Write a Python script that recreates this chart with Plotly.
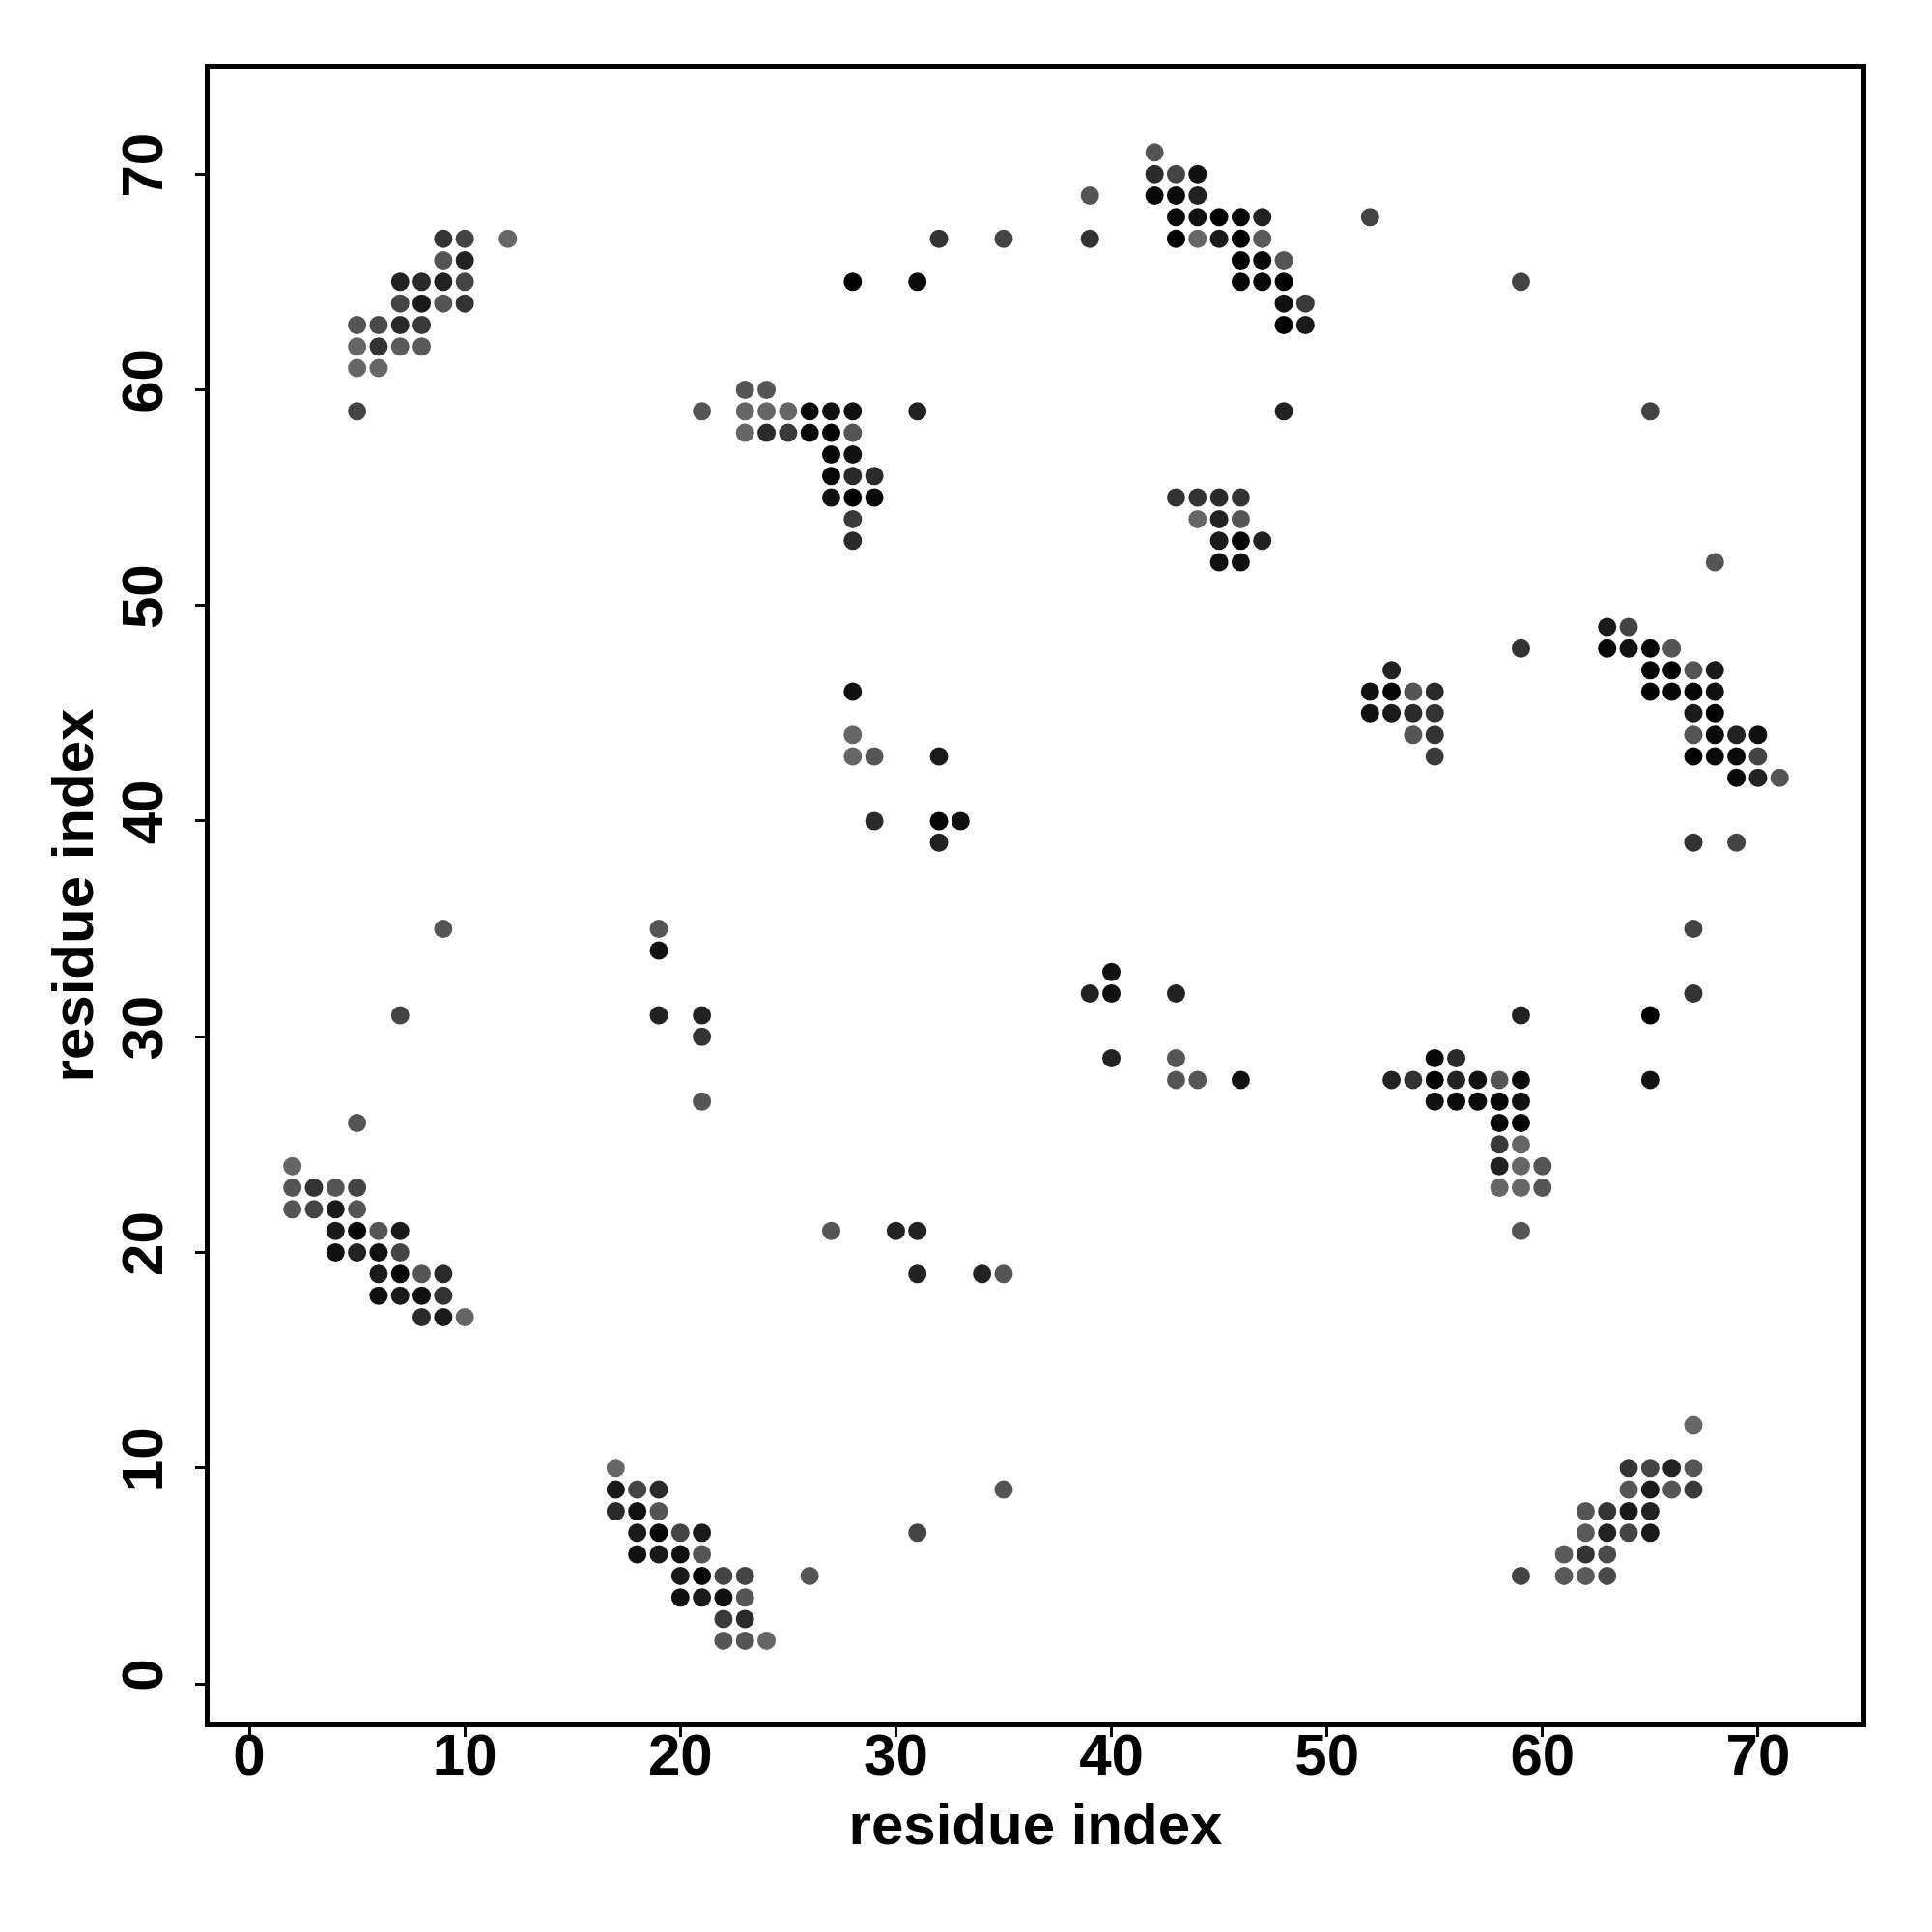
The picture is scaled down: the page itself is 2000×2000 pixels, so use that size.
import plotly.graph_objects as go

# Contact map: residue i, residue j, predicted contact probability (shade)
res_i = [
    # cluster top-left
    9, 10, 12, 9, 10, 7, 8, 9, 10, 7, 8, 9, 10, 5, 6, 7, 8, 5, 6, 7, 8, 5, 6, 5,
    # cluster 21-29 / 53-60
    23, 24, 21, 23, 24, 25, 26, 27, 28, 23, 24, 25, 26, 27, 28, 27, 28, 27, 28, 29, 27, 28, 29, 28, 28,
    # cluster 42-49 / 63-71
    42, 42, 43, 44, 42, 43, 44, 43, 44, 45, 46, 47, 43, 44, 45, 46, 47, 46, 47, 48, 46, 47, 48, 48, 49, 48, 49,
    # cluster 43-47 / 52-55
    43, 44, 45, 46, 44, 45, 46, 45, 46, 47, 45, 46,
    # cluster 52-55 / 43-47
    53, 52, 53, 54, 55, 52, 53, 54, 55, 54, 55, 55,
    # cluster 63-71 / 42-49
    63, 64, 63, 64, 65, 66, 65, 66, 67, 68, 65, 66, 67, 68, 67, 68, 67, 68, 69, 70, 67, 68, 69, 70, 69, 70, 71,
    # cluster 2-10 / 17-24
    2, 2, 3, 4, 5, 2, 3, 4, 5, 4, 5, 6, 7, 4, 5, 6, 7, 6, 7, 8, 9, 6, 7, 8, 9, 8, 9, 10,
    # cluster 17-24 / 2-10
    17, 17, 18, 19, 17, 18, 19, 18, 19, 20, 21, 18, 19, 20, 21, 20, 21, 22, 23, 20, 21, 22, 23, 22, 23, 22, 23, 24,
    # cluster 53-60 / 21-29
    55, 56, 53, 54, 55, 56, 57, 58, 59, 55, 56, 57, 58, 59, 58, 59, 58, 59, 58, 59, 60, 58, 59, 60, 59,
    # cluster 59-67 / 5-12
    67, 64, 65, 66, 67, 64, 65, 66, 67, 62, 63, 64, 65, 62, 63, 64, 65, 61, 62, 63, 59, 61, 62, 63,
    # scattered contacts
    39, 39, 32, 35, 28, 31, 52, 59, 31, 48, 65, 68, 59,
    28, 28, 28, 29, 32, 29, 32, 33, 32, 67, 69,
    9, 7, 19, 19, 19, 21, 21, 21, 5,
    39, 40, 40, 40, 43, 43, 43, 44, 46,
    67, 67, 65, 65, 59,
    27, 30, 31, 31, 34, 35, 35, 31, 26,
]

res_j = [
    67, 67, 67, 66, 66, 65, 65, 65, 65, 64, 64, 64, 64, 63, 63, 63, 63, 62, 62, 62, 62, 61, 61, 59,
    60, 60, 59, 59, 59, 59, 59, 59, 59, 58, 58, 58, 58, 58, 58, 57, 57, 56, 56, 56, 55, 55, 55, 54, 53,
    71, 70, 70, 70, 69, 69, 69, 68, 68, 68, 68, 68, 67, 67, 67, 67, 67, 66, 66, 66, 65, 65, 65, 64, 64, 63, 63,
    55, 55, 55, 55, 54, 54, 54, 53, 53, 53, 52, 52,
    47, 46, 46, 46, 46, 45, 45, 45, 45, 44, 44, 43,
    49, 49, 48, 48, 48, 48, 47, 47, 47, 47, 46, 46, 46, 46, 45, 45, 44, 44, 44, 44, 43, 43, 43, 43, 42, 42, 42,
    24, 23, 23, 23, 23, 22, 22, 22, 22, 21, 21, 21, 21, 20, 20, 20, 20, 19, 19, 19, 19, 18, 18, 18, 18, 17, 17, 17,
    10, 9, 9, 9, 8, 8, 8, 7, 7, 7, 7, 6, 6, 6, 6, 5, 5, 5, 5, 4, 4, 4, 4, 3, 3, 2, 2, 2,
    29, 29, 28, 28, 28, 28, 28, 28, 28, 27, 27, 27, 27, 27, 26, 26, 25, 25, 24, 24, 24, 23, 23, 23, 21,
    12, 10, 10, 10, 10, 9, 9, 9, 9, 8, 8, 8, 8, 7, 7, 7, 7, 6, 6, 6, 5, 5, 5, 5,
    69, 67, 67, 67, 65, 65, 68, 65, 59, 59, 59, 52, 48,
    46, 44, 43, 43, 43, 40, 40, 40, 39, 39, 39,
    35, 31, 35, 34, 31, 31, 30, 27, 26,
    32, 32, 33, 29, 32, 29, 28, 28, 28,
    35, 32, 31, 28, 31,
    21, 21, 21, 19, 19, 19, 9, 7, 5,
]

prob = [
    .54, .38, .07, .23, .69, .69, .62, .69, .38, .38, .76, .23, .54, .23, .33, .62, .47, .07, .54, .18, .18, .07, .07, .38,
    .23, .23, .23, .07, .07, .07, .93, .85, .85, .07, .62, .47, .93, .95, .23, .93, .85, .93, .62, .62, .85, .99, .93, .47, .62,
    .23, .62, .38, .85, .93, .91, .69, .91, .85, .99, .93, .69, .99, .07, .76, .99, .18, .99, .93, .23, .95, .93, .99, .85, .47, .99, .76,
    .54, .54, .62, .54, .07, .69, .23, .76, .95, .69, .85, .85,
    .69, .85, .95, .23, .62, .85, .76, .62, .54, .23, .54, .47,
    .76, .38, .95, .85, .93, .23, .95, .99, .23, .76, .99, .95, .95, .85, .76, .99, .23, .93, .69, .85, .99, .91, .91, .38, .93, .69, .23,
    .07, .23, .54, .23, .38, .23, .38, .76, .23, .76, .95, .23, .76, .85, .69, .85, .38, .76, .93, .23, .62, .85, .76, .85, .54, .62, .76, .07,
    .07, .76, .38, .62, .62, .85, .23, .76, .93, .38, .76, .85, .76, .85, .23, .76, .95, .38, .38, .85, .76, .85, .23, .47, .62, .23, .23, .07,
    .93, .62, .69, .54, .99, .69, .85, .23, .91, .85, .91, .91, .95, .85, .95, .99, .47, .07, .69, .07, .23, .07, .07, .23, .23,
    .07, .54, .38, .69, .23, .23, .76, .23, .47, .23, .54, .76, .69, .18, .69, .38, .76, .18, .54, .33, .38, .18, .18, .33,
    .23, .54, .54, .38, .99, .91, .38, .38, .69, .69, .38, .23, .54,
    .85, .07, .07, .23, .76, .62, .95, .85, .69, .54, .38,
    .23, .38, .23, .85, .69, .69, .54, .23, .23,
    .69, .85, .85, .69, .69, .23, .23, .23, .85,
    .38, .54, .99, .85, .69,
    .23, .69, .69, .69, .69, .23, .23, .38, .23,
]

tick_vals = [0, 10, 20, 30, 40, 50, 60, 70]
axis_title = "residue index"

font_family = "Liberation Sans, Arial, sans-serif"

fig = go.Figure(
    go.Scatter(
        x=res_i,
        y=res_j,
        mode="markers",
        marker=dict(
            size=19,
            color=prob,
            cmin=0,
            cmax=1,
            colorscale=[[0, "rgb(110,110,110)"], [1, "rgb(0,0,0)"]],
            showscale=False,
            line=dict(width=0),
        ),
        showlegend=False,
    )
)

axis_common = dict(
    showgrid=False,
    zeroline=False,
    showline=True,
    linecolor="black",
    linewidth=5,
    mirror=True,
    ticks="outside",
    ticklen=10,
    tickwidth=3,
    tickcolor="black",
    tickvals=tick_vals,
    tickfont=dict(family=font_family, size=60, color="black", weight="bold"),
    title=dict(text=axis_title, font=dict(family=font_family, size=60, color="black", weight="bold")),
)

fig.update_layout(
    width=2000,
    height=2000,
    margin=dict(l=209, r=81, t=63, b=225),
    paper_bgcolor="white",
    plot_bgcolor="white",
    xaxis=dict(range=[-1.84, 74.8], ticklabelstandoff=-33, **axis_common),
    yaxis=dict(range=[-1.79, 74.89], tickangle=-90, ticklabelstandoff=10, **axis_common),
)
fig.update_xaxes(title_standoff=19)
fig.update_yaxes(title_standoff=0)

fig.write_html("out.html")
